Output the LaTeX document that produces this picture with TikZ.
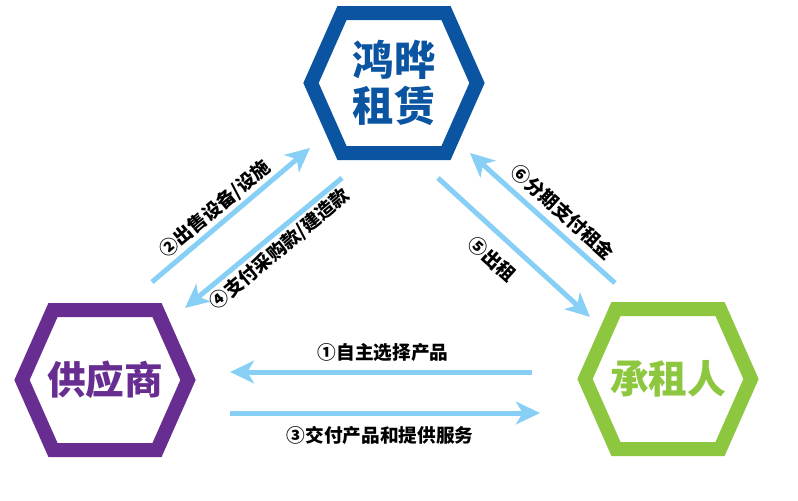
\documentclass[tikz,border=0pt]{standalone}
\usepackage{fontspec}
\usepackage{xcolor}
\usepackage{tikz}
\usetikzlibrary{arrows.meta}
\newfontfamily\cjk{Noto Sans CJK SC}
\newfontfamily\cjkheavy{Noto Sans CJK SC Black}
\definecolor{hexblue}{RGB}{11,84,162}
\definecolor{hexpurple}{RGB}{104,45,145}
\definecolor{hexgreen}{RGB}{141,198,63}
\definecolor{flowblue}{RGB}{135,207,245}
\tikzset{
  hexline/.style={line width=10.5pt,line join=miter},
  entity/.style={inner sep=0pt,align=center,font=\cjkheavy\fontsize{29}{34}\selectfont},
  flow/.style={draw=flowblue,line width=3.75pt,-{Stealth[length=18pt,width=17pt,inset=5pt]}},
  flowlabel/.style={inner sep=0pt,font=\cjk\bfseries\fontsize{14}{16}\selectfont}
}

\begin{document}
\begin{tikzpicture}[x=0.75pt,y=0.75pt,yscale=-1,xscale=1]

\useasboundingbox (0,0) rectangle (798,500);


\draw [hexline,draw=hexblue] (342,13) -- (446,13) -- (477,83) -- (446,153) -- (342,153) -- (311,83) -- cycle ;


\draw [hexline,draw=hexpurple] (53,310) -- (157,310) -- (188,380) -- (157,450) -- (53,450) -- (22,380) -- cycle ;


\draw [hexline,draw=hexgreen] (616,309) -- (720,309) -- (751,379) -- (720,449) -- (616,449) -- (585,379) -- cycle ;



\draw (394,83) node (lessor) [entity,text=hexblue,font=\cjkheavy\fontsize{31}{34}\selectfont] {鸿晔\\租赁};

\draw (105,380) node (supplier) [entity,text=hexpurple] {供应商};

\draw (668,379) node (lessee) [entity,text=hexgreen] {承租人};



\coordinate (sellfrom) at (152,282);
\coordinate (sellto) at (310,148);
\coordinate (payfrom) at (342,178);
\coordinate (payto) at (185,308);
\coordinate (rentfrom) at (438,178);
\coordinate (rentto) at (590,317);
\coordinate (feefrom) at (615,283);
\coordinate (feeto) at (470,153);
\coordinate (pickfrom) at (532,372);
\coordinate (pickto) at (230,372);
\coordinate (deliverfrom) at (230,413);
\coordinate (deliverto) at (540,413);


\draw [flow] (sellfrom) -- (sellto) ;

\draw [flow] (payfrom) -- (payto) ;

\draw [flow] (rentfrom) -- (rentto) ;

\draw [flow] (feefrom) -- (feeto) ;

\draw [flow] (pickfrom) -- (pickto) ;

\draw [flow] (deliverfrom) -- (deliverto) ;



\draw (383,352) node (picklabel) [flowlabel] {①自主选择产品};

\draw (380,435) node (deliverlabel) [flowlabel] {③交付产品和提供服务};

\draw (215,209) node (selllabel) [flowlabel,rotate=40] {②出售设备/设施};

\draw (280,249) node (paylabel) [flowlabel,rotate=40] {④支付采购款/建造款};

\draw (563,212) node (feelabel) [flowlabel,rotate=-42] {⑥分期支付租金};

\draw (492,259) node (rentlabel) [flowlabel,rotate=-42] {⑤出租};


\end{tikzpicture}
\end{document}
